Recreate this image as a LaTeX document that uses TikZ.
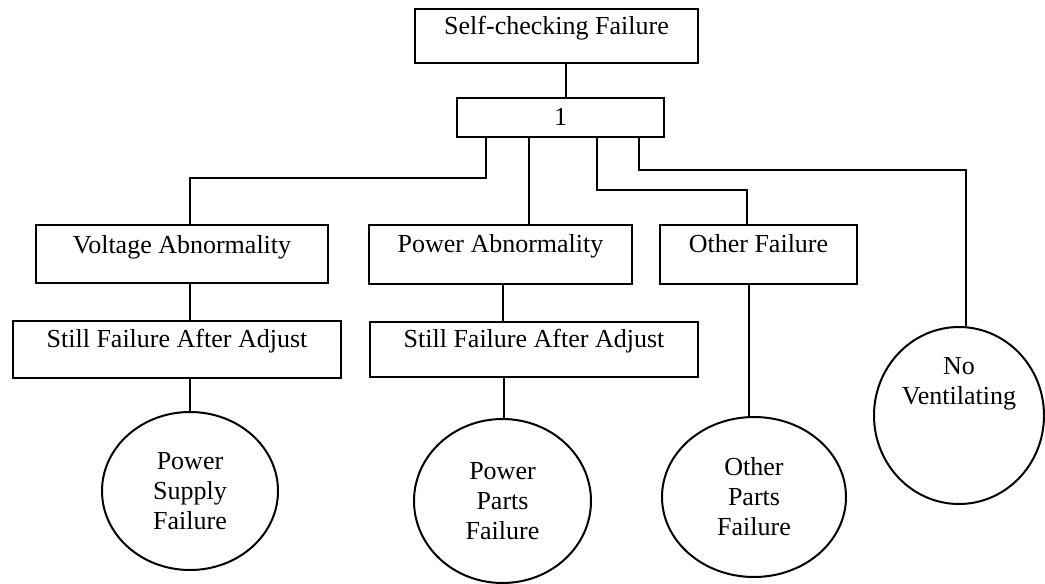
\documentclass[tikz,border=0pt]{standalone}
\usepackage{fontspec}
\setmainfont{Liberation Serif}
\usetikzlibrary{shapes.geometric,calc}
\tikzset{
	fbox/.style={draw,rectangle,line width=1pt,anchor=north west,inner xsep=0pt,inner ysep=0pt},
	event/.style={draw,ellipse,line width=1pt,inner sep=0pt,align=center},
	link/.style={color=black,line width=0.8pt}
}

\begin{document}
\begin{tikzpicture}[x=0.5pt,y=-0.5pt,font=\fontsize{13}{15}\selectfont]
		\useasboundingbox (0,0) rectangle (1045,584);
		
		\node[fbox,minimum width=141.5pt,text height=12.5pt,text depth=14.5pt] (top) at (414,8) {Self-checking Failure};
		\node[fbox,minimum width=103.5pt,text height=13.5pt,text depth=6pt] (one) at (456,97) {1};
		
		\node[fbox,minimum width=146pt,text height=14.3pt,text depth=14.7pt] (volt) at (35,224) {Voltage Abnormality};
		\node[fbox,minimum width=131.5pt,text height=13.9pt,text depth=15.6pt] (powa) at (368,224) {Power Abnormality};
		\node[fbox,minimum width=98.5pt,text height=13.9pt,text depth=15.6pt] (othf) at (659,224) {Other Failure};
		
		\node[fbox,minimum width=164pt,text height=13pt,text depth=15.5pt] (still1) at (12,320) {Still Failure After Adjust};
		\node[fbox,minimum width=164pt,text height=12.5pt,text depth=15pt] (still2) at (369,321) {Still Failure After Adjust};
		
		\node[event,minimum width=88pt,minimum height=79pt] (psf) at (190,491) {Power\\Supply\\Failure};
		\node[event,minimum width=88.5pt,minimum height=82pt] (ppf) at (502.5,501) {Power\\Parts\\Failure};
		\node[event,minimum width=92pt,minimum height=80pt] (opf) at (754,497) {Other\\Parts\\Failure};
		\node[event,minimum width=85pt,minimum height=88.5pt] (nov) at (959,415.5) {No\\Ventilating\\\strut\\\strut};
		
		%\draw (top) -- (one);
		\draw[link] (top.south -| 566,0) -- (one.north -| 566,0);
		\draw[link] (one.south -| 486,0) -- ++(0,40) -| (volt.north -| 190,0);
		\draw[link] (one.south -| 529,0) -- (powa.north -| 529,0);
		\draw[link] (one.south -| 597,0) -- ++(0,52) -| (othf.north -| 747,0);
		\draw[link] (one.south -| 639,0) -- ++(0,32) -| (nov.north -| 966,0);
		
		\draw[link] (volt.south -| 190,0) -- (still1.north -| 190,0);
		\draw[link] (still1.south -| 190,0) -- (psf.north);
		\draw[link] (powa.south -| 503,0) -- (still2.north -| 503,0);
		\draw[link] (still2.south -| 504,0) -- (ppf.north -| 504,0);
		\draw[link] (othf.south -| 749,0) -- (opf.north -| 749,0);
		
	\end{tikzpicture}
\end{document}
